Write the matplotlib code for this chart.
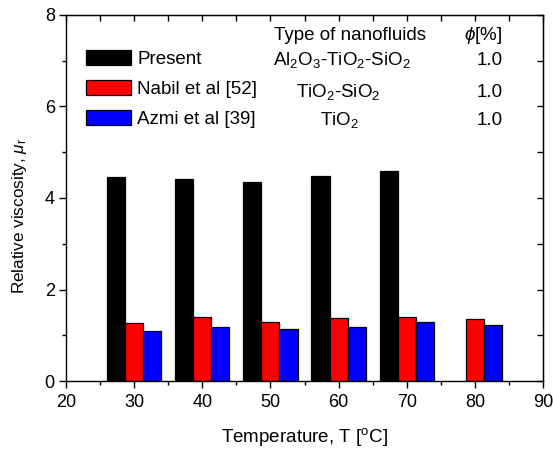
import numpy as np
import matplotlib
matplotlib.use("Agg")
import matplotlib.pyplot as plt
from matplotlib.ticker import MultipleLocator

plt.rcParams['font.family'] = ['Liberation Sans', 'DejaVu Sans']
plt.rcParams['mathtext.fontset'] = 'custom'
plt.rcParams['mathtext.rm'] = 'Liberation Sans'
plt.rcParams['mathtext.it'] = 'Liberation Sans:italic'
plt.rcParams['mathtext.default'] = 'regular'

temps = np.array([30, 40, 50, 60, 70, 80])
present = np.array([4.46, 4.41, 4.34, 4.47, 4.58, np.nan])
nabil = np.array([1.27, 1.39, 1.29, 1.37, 1.40, 1.36])
azmi = np.array([1.10, 1.18, 1.13, 1.18, 1.29, 1.22])

labels = ['Present', 'Nabil et al [52]', 'Azmi et al [39]']
fluids = ['Al$_2$O$_3$-TiO$_2$-SiO$_2$', 'TiO$_2$-SiO$_2$', 'TiO$_2$']
phi = ['1.0', '1.0', '1.0']
colors = ['black', 'red', 'blue']

fig = plt.figure(figsize=(5.53, 4.5), dpi=100)
ax = fig.add_axes([0.1193, 0.1533, 0.8627, 0.8134])

w = 2.65
series = [present, nabil, azmi]
bars = []
for i, (vals, c, lab) in enumerate(zip(series, colors, labels)):
    b = ax.bar(temps + (i - 1) * w, vals, width=w, color=c,
               edgecolor='black', linewidth=0.9, label=lab)
    bars.append(b)

ax.set_xlim(20, 90)
ax.set_ylim(0, 8)
ax.xaxis.set_major_locator(MultipleLocator(10))
ax.xaxis.set_minor_locator(MultipleLocator(5))
ax.yaxis.set_major_locator(MultipleLocator(2))
ax.yaxis.set_minor_locator(MultipleLocator(1))
ax.tick_params(axis='both', which='major', direction='out', length=5,
               width=1, labelsize=13, pad=3)
ax.tick_params(axis='x', which='major', pad=4)
ax.tick_params(axis='both', which='minor', direction='out', length=3, width=1)
for s in ax.spines.values():
    s.set_linewidth(1.0)

# mirrored ticks on top and right, pointing in
ax_top = ax.secondary_xaxis('top')
ax_top.xaxis.set_major_locator(MultipleLocator(5))
ax_top.tick_params(direction='in', length=4, width=1, labelsize=0, labeltop=False)
ax_right = ax.secondary_yaxis('right')
ax_right.yaxis.set_major_locator(MultipleLocator(1))
ax_right.tick_params(direction='in', length=4, width=1, labelsize=0, labelright=False)

ax.set_xlabel('Temperature, T [$^o$C]', fontsize=13.5, labelpad=11)
ax.set_ylabel('Relative viscosity, $\\mathit{\\mu}_r$', fontsize=12.3)
ax.yaxis.set_label_coords(-0.077, 0.45)

ax.legend(handles=bars, loc='upper left', bbox_to_anchor=(0.043, 0.905),
          frameon=False, fontsize=13.5, handlelength=2.4, handleheight=0.85,
          handletextpad=0.32, labelspacing=0.66, borderaxespad=0, borderpad=0)

# table beside the legend
fs = 13.5
ax.text(0.595, 0.932, 'Type of nanofluids', transform=ax.transAxes,
        ha='center', va='baseline', fontsize=fs)
ax.text(0.874, 0.932, '$\\mathit{\\phi}$[%]', transform=ax.transAxes,
        ha='center', va='baseline', fontsize=fs)
row_y = [0.863, 0.776, 0.699]
fluid_x = [0.579, 0.570, 0.574]
for y, f, p, fx in zip(row_y, fluids, phi, fluid_x):
    ax.text(fx, y, f, transform=ax.transAxes, ha='center', va='baseline', fontsize=fs)
    ax.text(0.889, y, p, transform=ax.transAxes, ha='center', va='baseline', fontsize=fs)

fig.savefig('out.png', dpi=100)
